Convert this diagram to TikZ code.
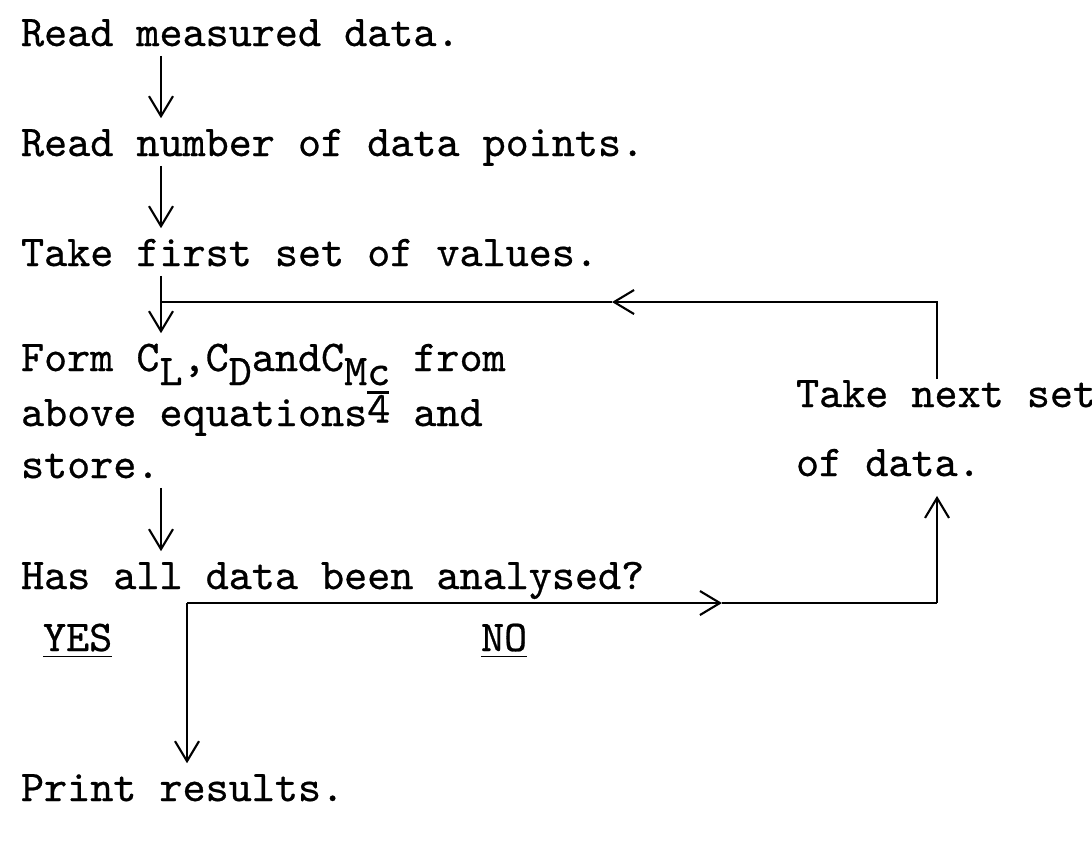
\documentclass[tikz,border=0pt]{standalone}
\usepackage{fontspec}
\usetikzlibrary{arrows.meta, positioning, calc}

% heavier typewriter face
\newfontfamily\typer{lmmono10-regular.otf}[FakeBold=0.6]
% typed subscripts: letters dropped below the line
\newcommand{\dn}[1]{\raisebox{-0.32em}{#1}}
\newcommand{\cbar}{\rlap{\rule[-0.2em]{0.5em}{0.07em}}c}

\begin{document}
\begin{tikzpicture}[x=0.01cm,y=-0.01cm,line width=0.6pt,
  >={Straight Barb[length=2mm,width=2.4mm]},
  tw/.style={anchor=base west,inner sep=0pt,
    font=\typer\fontsize{12.5}{14}\selectfont,
    text height=7.6pt,text depth=2.5pt},
  flow/.style={->,shorten >=1mm}]

\useasboundingbox (0,0) rectangle (1092,841);

% ---- main column ----
\node[tw] (read)  at (20,46)  {Read measured data.};
\node[tw] (npts)  at (20,156) {Read number of data points.};
\node[tw] (first) at (20,266) {Take first set of values.};
\node[tw] (form)  at (20,371) {Form C\dn{L},C\dn{D}andC\dn{M\cbar} from};
\node[tw] (eqns)  at (20,426) {above equations\raisebox{0.08em}{4} and};
\node[tw] (store) at (20,478) {store.};
\node[tw] (done)  at (20,589) {Has all data been analysed?};
\node[tw] (yes)   at (42,651) {\underline{YES}};
\node[tw] (no)    at (480,651) {\underline{NO}};
\node[tw] (print) at (20,801) {Print results.};

% ---- return branch ----
\node[tw] (next)   at (795,407) {Take next set};
\node[tw] (ofdata) at (795,476) {of data.};

% x of the spine and of the return column
\coordinate (spine) at (161,0);
\coordinate (rcol)  at (937,0);

\draw[flow] (read.south -| spine)  -- (npts.north -| spine);
\draw[flow] (npts.south -| spine)  -- (first.north -| spine);
\draw[flow] (first.south -| spine) -- (form.north -| spine);
\draw[flow] (store.south -| spine) -- (done.north -| spine);

% loop back to the top
\coordinate (fb)    at (937,302);
\coordinate (fbtip) at (612,302);
\draw[->] (next.north -| rcol) -- (fb) -- (fbtip);
\draw (fbtip) -- (fb -| spine);

% yes / no split
\coordinate (br)    at (187,603);
\coordinate (brtip) at (722,603);
\draw[->] (br) -- (brtip);
\draw (brtip) -- (br -| rcol);
\draw[flow] (br -| rcol) -- (ofdata.south -| rcol);
\draw[flow] (br) -- (print.north -| br);

\end{tikzpicture}
\end{document}
